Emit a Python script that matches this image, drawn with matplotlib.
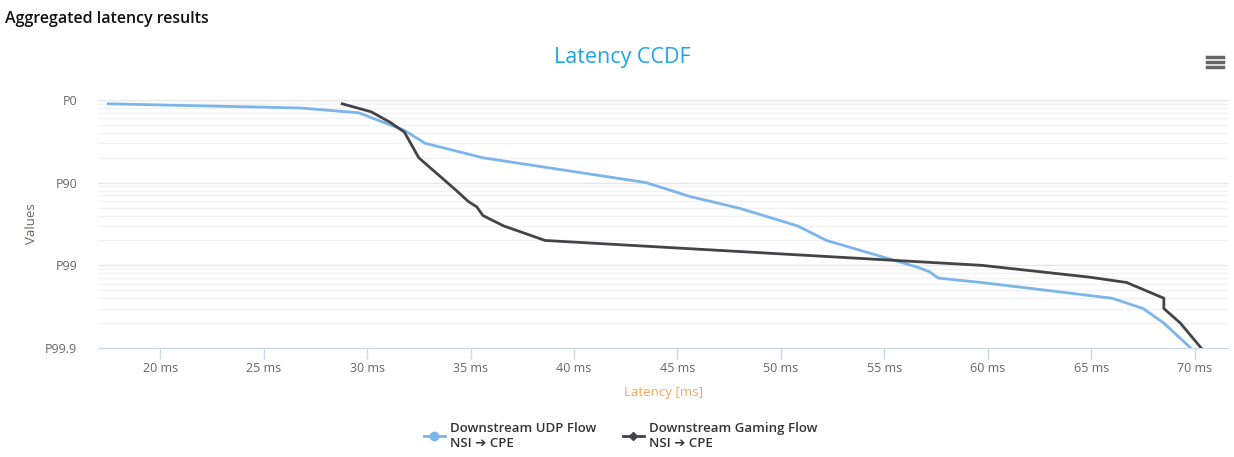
import numpy as np
import matplotlib.pyplot as plt
from matplotlib.lines import Line2D

plt.rcParams['font.family'] = ['Open Sans', 'DejaVu Sans']

# Latency (ms) vs percentile
udp_ms = [17.5, 26.8, 29.6, 31.8, 32.8, 35.6, 43.5, 45.6, 48.0, 50.8, 52.2,
          56.6, 57.2, 57.6, 59.7, 66.0, 67.5, 68.5, 69.8]
udp_pct = [10, 20, 30, 57, 70, 80, 90, 93.2, 95.1, 97, 98,
           99.05, 99.17, 99.3, 99.38, 99.6, 99.7, 99.8, 99.9]

gaming_ms = [28.8, 30.2, 31.1, 31.8, 32.5, 34.3, 34.9, 35.3, 35.6, 36.6, 38.6,
             59.7, 64.9, 66.7, 68.5, 68.5, 69.3, 70.3]
gaming_pct = [10, 28, 46, 59, 80, 91.9, 94.1, 94.9, 96, 97, 98,
              99, 99.28, 99.38, 99.6, 99.7, 99.8, 99.9]

x_ticks = [20, 25, 30, 35, 40, 45, 50, 55, 60, 65, 70]
y_ticks = [0, 90, 99, 99.9]
y_labels = ['P0', 'P90', 'P99', 'P99.9']

udp_color = '#7cb5ec'
gaming_color = '#434348'


def fwd(p):
    p = np.asarray(p, dtype=float)
    return -np.log10(np.clip(1 - p / 100.0, 1e-9, None))


def inv(y):
    return 100.0 * (1 - 10 ** (-np.asarray(y, dtype=float)))


fig = plt.figure(figsize=(12.34, 4.57), dpi=100)
ax = fig.add_axes([98 / 1234, 1 - 348 / 457, 1130 / 1234, 248 / 457])
ax.set_yscale('function', functions=(fwd, inv))

ax.plot(udp_ms, udp_pct, color=udp_color, lw=2, zorder=3)
ax.plot(gaming_ms, gaming_pct, color=gaming_color, lw=2, zorder=3)

ax.set_xlim(17.0, 71.6)
ax.set_ylim(99.9, 0)

# log-style gridlines on the tail probability
minor = []
for n in range(0, 3):
    for k in range(2, 10):
        minor.append(100 * (1 - k * 10.0 ** (-n - 1)))
for v in minor:
    ax.axhline(v, color='#f2f2f2', lw=1, zorder=1)
for v in y_ticks:
    ax.axhline(v, color='#e6e6e6', lw=1, zorder=1)

ax.set_yticks(y_ticks)
ax.set_yticklabels(y_labels)
ax.set_xticks(x_ticks)
ax.set_xticklabels([f'{t} ms' for t in x_ticks])
ax.minorticks_off()

for s in ['top', 'right', 'left']:
    ax.spines[s].set_visible(False)
ax.spines['bottom'].set_color('#ccd6eb')
ax.tick_params(axis='x', colors='#ccd6eb', length=8, width=1, labelcolor='#666666',
               labelsize=9, pad=2)
ax.tick_params(axis='y', length=0, labelcolor='#666666', labelsize=9, pad=15)

ax.set_xlabel('Latency [ms]', color='#f7a35c', fontsize=9.5, labelpad=8)
ax.set_ylabel('Values', color='#6f625a', fontsize=9.5, labelpad=5)

fig.text(0.004, 0.975, 'Aggregated latency results', fontsize=11.5,
         fontweight='semibold', color='#111111', va='top', ha='left')
fig.text(622 / 1234, 1 - 57 / 457, 'Latency CCDF', fontsize=15.5,
         color='#1ba6ea', ha='center', va='center')

# menu icon
for yy in [57, 62, 67]:
    fig.add_artist(Line2D([1207 / 1234, 1223 / 1234], [1 - yy / 457, 1 - yy / 457],
                          color='#666666', lw=2.5, transform=fig.transFigure))

handles = [
    Line2D([], [], color=udp_color, lw=2, marker='o', markersize=6),
    Line2D([], [], color=gaming_color, lw=2, marker='D', markersize=4.5),
]
labels = ['Downstream UDP Flow\nNSI \u2794 CPE', 'Downstream Gaming Flow\nNSI \u2794 CPE']
fig.legend(handles, labels, loc='center', bbox_to_anchor=(0.503, 1 - 436 / 457), ncol=2,
           frameon=False, prop={'weight': 'semibold', 'size': 9.5}, handlelength=1.6,
           handletextpad=0.4, columnspacing=2.0, labelcolor='#333333')

fig.savefig('out.png', dpi=100)
